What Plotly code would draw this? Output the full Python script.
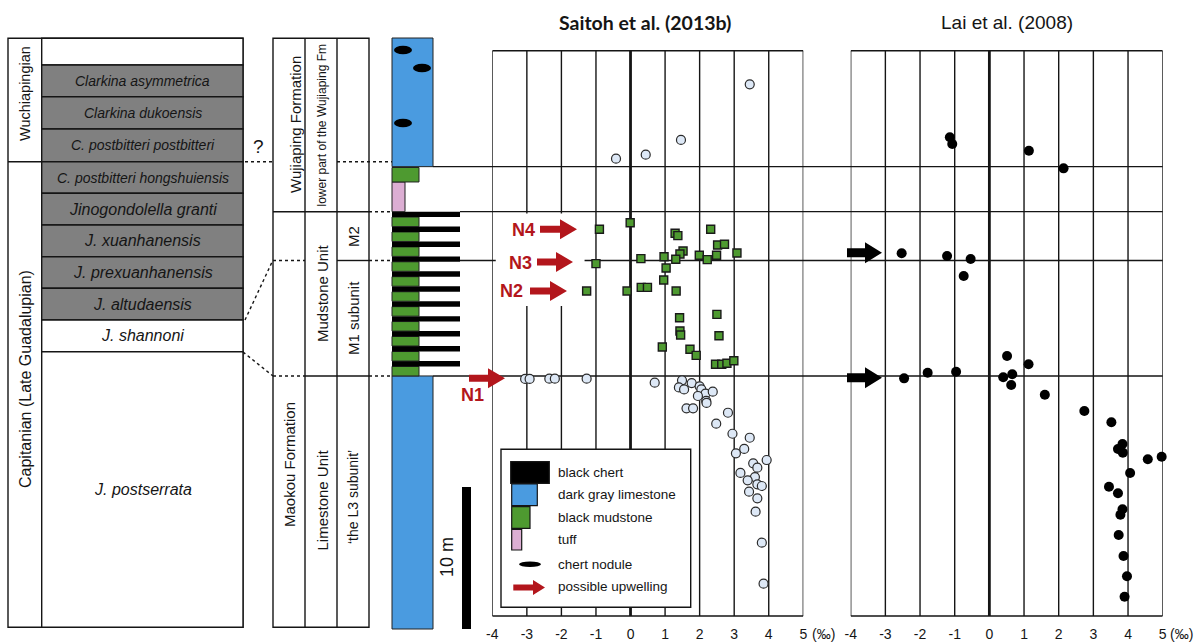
import plotly.graph_objects as go


# ==========================================================
# Data (heights in metres above the base of the column)
# ==========================================================

# Saitoh et al. (2013b) - limestone samples (open circles)
saitoh_ls_d13c = [3.45, 1.46, 0.44, -0.42,
                  -3.05, -2.92, -2.35, -2.19, -1.27, 0.70, 1.49, 1.40, 1.55, 1.77,
                  2.00, 2.05, 2.17, 2.38, 1.95, 2.19, 2.20, 1.62, 1.81, 2.82,
                  2.48, 2.95, 3.45, 3.29, 3.05, 3.94, 3.55, 3.67, 3.18, 3.60,
                  3.39, 3.67, 3.80, 3.43, 3.67, 3.62, 3.80, 3.85]
saitoh_ls_height = [38.36, 34.44, 33.40, 33.12,
                    17.61, 17.61, 17.63, 17.63, 17.63, 17.35, 17.51, 17.01, 16.87, 17.32,
                    17.09, 16.88, 16.57, 16.71, 16.41, 16.06, 15.92, 15.54, 15.54, 15.23,
                    14.46, 13.75, 13.47, 12.68, 12.37, 11.90, 11.67, 11.36, 10.99, 10.70,
                    10.47, 10.19, 10.07, 9.67, 9.20, 8.26, 6.08, 3.19]

# Saitoh et al. (2013b) - mudstone samples (green squares)
saitoh_mud_d13c = [-0.01, -0.90, 1.29, 1.37, 2.32, 2.52, 2.72, 1.52, 1.43, 1.31,
                   0.97, 0.30, 1.99, 2.22, 2.49, 3.08, -1.00, 1.03, 0.96, -1.27,
                   -0.10, 0.31, 0.49, 1.32, 1.42, 2.50, 1.43, 1.45, 0.92, 1.72,
                   1.90, 2.56, 2.46, 2.64, 2.79, 2.99]
saitoh_mud_height = [28.61, 28.15, 27.87, 27.70, 28.15, 27.04, 27.09, 26.62, 26.41, 26.04,
                     26.22, 26.08, 26.32, 26.01, 26.32, 26.48, 25.73, 25.42, 24.58, 23.80,
                     23.80, 24.06, 24.06, 23.80, 21.92, 22.16, 20.99, 20.70, 19.86, 19.70,
                     19.27, 20.65, 18.64, 18.64, 18.71, 18.89]

# Lai et al. (2008)
lai_d13c = [-1.14, -1.07, 1.14, 2.14, -2.53, -1.22, -0.54, -0.74,
            -2.46, -1.78, -0.96, 0.51, 1.13, 0.40, 0.66, 0.63, 1.60, 2.74, 3.52,
            3.84, 3.71, 3.85, 4.57, 4.97, 4.06, 3.45, 3.71, 3.84, 3.78, 3.73,
            3.87, 3.97, 3.90]
lai_height = [34.63, 34.15, 33.68, 32.44, 26.46, 26.27, 26.06, 24.86,
              17.65, 18.05, 18.12, 19.23, 18.64, 17.73, 17.94, 17.18, 16.50, 15.35, 14.56,
              13.03, 12.68, 12.42, 11.95, 12.13, 10.99, 10.02, 9.56, 8.43, 8.05, 6.62,
              5.14, 3.71, 2.27]

# unit boundaries: L3/M1, M1/M2, M2/Wujiaping, tuff-mudstone/limestone
unit_tops = [17.82, 25.95, 29.39, 32.56]

# lithology column
bed_base = [0.00, 17.82, 18.49, 18.87, 19.54, 19.93, 20.60, 20.98, 21.65, 22.03, 22.70,
            23.08, 23.75, 24.14, 24.81, 25.19, 25.86, 26.24, 26.91, 27.29, 27.96,
            28.34, 29.01, 29.39, 31.48, 32.56]
bed_top = [17.82, 18.49, 18.87, 19.54, 19.93, 20.60, 20.98, 21.65, 22.03, 22.70, 23.08,
           23.75, 24.14, 24.81, 25.19, 25.86, 26.24, 26.91, 27.29, 27.96, 28.34,
           29.01, 29.39, 31.48, 32.50, 41.62]
bed_lith = ["limestone", "mudstone", "chert", "mudstone", "chert", "mudstone", "chert",
            "mudstone", "chert", "mudstone", "chert", "mudstone", "chert", "mudstone",
            "chert", "mudstone", "chert", "mudstone", "chert", "mudstone", "chert",
            "mudstone", "chert", "tuff", "mudstone", "limestone"]
nodule_heights = [35.63, 39.51, 40.77]

# possible upwelling events
upwelling_labels = ["N1", "N2", "N3", "N4"]
upwelling_heights = [17.65, 23.80, 25.85, 28.15]
lai_arrow_heights = [17.70, 26.50]

# biozones (left table)
zone_names = ["", "Clarkina asymmetrica", "Clarkina dukoensis",
              "C. postbitteri postbitteri", "C. postbitteri hongshuiensis",
              "Jinogondolella granti", "J. xuanhanensis", "J. prexuanhanensis",
              "J. altudaensis", "J. shannoni", "J. postserrata"]

x_ticks = [-4, -3, -2, -1, 0, 1, 2, 3, 4, 5]
x_tick_text = ["-4", "-3", "-2", "-1", "0", "1", "2", "3", "4", "5"]


# ==========================================================
# Layout constants (pixels)
# ==========================================================

W, H = 1194, 643
PX_PER_M = 14.2
BASE_ROW = 629
FONT = "Liberation Sans, Arial, sans-serif"
INK = "#151515"
RED = "#b3161c"

LITH_COLOR = {"limestone": "#4a9be0", "mudstone": "#4e9a30",
              "chert": "#000000", "tuff": "#dcaed3"}
LITH_WIDTH = {"limestone": 41, "mudstone": 27, "chert": 68, "tuff": 13}
COL_X = 392

ZONE_ROWS = [38.3, 65, 96.7, 129, 161.7, 193.3, 225, 256.7, 288.3, 320, 351.7, 627.3]
ZONE_GRAY = [False, True, True, True, True, True, True, True, True, False, False]
ZONE_SIZE = [14, 14, 14, 14, 14, 16, 16, 16, 16, 16, 16]

PLOT_TOP = (BASE_ROW - 50.7) / PX_PER_M
PLOT_BOTTOM = (BASE_ROW - 616) / PX_PER_M


def px(x):
    return x / W


def py(y):
    return 1 - y / H


def row_m(y):
    return (BASE_ROW - y) / PX_PER_M


shapes = []
annotations = []


def rect(x0, y0, x1, y1, fill="rgba(0,0,0,0)", lw=1.4, line=INK, layer="below"):
    shapes.append(dict(type="rect", xref="paper", yref="paper",
                       x0=px(x0), x1=px(x1), y0=py(y0), y1=py(y1),
                       fillcolor=fill, line=dict(color=line, width=lw), layer=layer))


def seg(x0, y0, x1, y1, lw=1.4, dash="solid", layer="below"):
    shapes.append(dict(type="line", xref="paper", yref="paper",
                       x0=px(x0), x1=px(x1), y0=py(y0), y1=py(y1),
                       line=dict(color=INK, width=lw, dash=dash), layer=layer))


def text(x, y, s, size=14, angle=0, bold=False, italic=False, color=INK,
         family=FONT, xanchor="center", yanchor="middle"):
    if italic:
        s = "<i>" + s + "</i>"
    if bold:
        s = "<b>" + s + "</b>"
    annotations.append(dict(x=px(x), y=py(y), xref="paper", yref="paper", text=s,
                            showarrow=False, textangle=angle, xanchor=xanchor,
                            yanchor=yanchor, borderpad=0,
                            font=dict(size=size, color=color, family=family)))


def arrow(x0, x1, h, color, shaft=7, head=20, head_len=17):
    xs = x1 - head_len
    s, hd = shaft / 2 / PX_PER_M, head / 2 / PX_PER_M
    pts = [(x0, h + s), (xs, h + s), (xs, h + hd), (x1, h), (xs, h - hd),
           (xs, h - s), (x0, h - s)]
    path = "M " + " L ".join(f"{px(a):.5f},{b:.4f}" for a, b in pts) + " Z"
    shapes.append(dict(type="path", xref="paper", yref="y", path=path,
                       fillcolor=color, line=dict(width=0), layer="above"))


# ==========================================================
# Left table: stages and conodont zones
# ==========================================================

rect(8, 38.3, 243, 627.3, fill="white")
for i, name in enumerate(zone_names):
    y0, y1 = ZONE_ROWS[i], ZONE_ROWS[i + 1]
    rect(41.7, y0, 243, y1, fill="#808080" if ZONE_GRAY[i] else "white")
    if name:
        text(142.5, (y0 + y1) / 2, name, size=ZONE_SIZE[i], italic=True)
seg(8, 161.7, 41.7, 161.7)
text(25, 94, "Wuchiapingian", size=14.5, angle=-90)
text(25, 379, "Capitanian (Late Guadalupian)", size=16, angle=-90)
text(258, 147, "?", size=19)

# connectors
seg(245, 161.7, 273, 161.7, dash="dot")
seg(245, 320, 273, 260, dash="dot")
seg(243, 352, 273, 376, dash="dot")

# ==========================================================
# Formation table
# ==========================================================

rect(273, 38.3, 369, 627.3, fill="white")
seg(305, 38.3, 305, 627.3)
seg(337, 38.3, 337, 627.3)
seg(273, 211.7, 369, 211.7)
seg(337, 260.5, 369, 260.5)
seg(305, 376, 369, 376)
seg(273, 260.5, 305, 260.5, dash="dot")
seg(273, 376, 305, 376, dash="dot")
seg(337, 161.7, 392, 161.7, dash="dot")
for yy in [211.7, 260.5, 376]:
    seg(369, yy, 392, yy, dash="dot")

text(295, 125, "Wujiaping Formation", size=15, angle=-90)
text(321.5, 125, "lower part of the Wujiaping Fm", size=12, angle=-90)
text(322, 293, "Mudstone Unit", size=15, angle=-90)
text(353, 237, "M2", size=15, angle=-90)
text(353, 318, "M1 subunit", size=15, angle=-90)
text(290, 465, "Maokou Formation", size=15, angle=-90)
text(321.5, 500, "Limestone Unit", size=15, angle=-90)
text(353, 497, "\u2018the L3 subunit\u2019", size=14, angle=-90)

# ==========================================================
# Lithology column
# ==========================================================

for b0, b1, lith in zip(bed_base, bed_top, bed_lith):
    shapes.append(dict(type="rect", xref="paper", yref="y",
                       x0=px(COL_X), x1=px(COL_X + LITH_WIDTH[lith]), y0=b0, y1=b1,
                       fillcolor=LITH_COLOR[lith],
                       line=dict(color="#222", width=1 if lith != "chert" else 0),
                       layer="below"))
for h, xc in zip(nodule_heights, [403, 422, 403]):
    shapes.append(dict(type="circle", xref="paper", yref="y",
                       x0=px(xc - 9), x1=px(xc + 9), y0=h - 4.3 / PX_PER_M,
                       y1=h + 4.3 / PX_PER_M, fillcolor="black",
                       line=dict(width=0), layer="below"))

# 10 m scale bar
shapes.append(dict(type="rect", xref="paper", yref="y", x0=px(462), x1=px(471),
                   y0=0, y1=10, fillcolor="black", line=dict(width=0), layer="below"))
text(447, 557, "10 m", size=18, angle=-90)

# unit boundaries running across both profiles
for h, x_start in zip(unit_tops, [433, 460, 460, 433]):
    shapes.append(dict(type="line", xref="paper", yref="y", x0=px(x_start),
                       x1=px(1162.7), y0=h, y1=h,
                       line=dict(color=INK, width=1.4), layer="below"))

# ==========================================================
# Profiles
# ==========================================================

for xr in ["x", "x2"]:
    for v in x_ticks:
        shapes.append(dict(type="line", xref=xr, yref="y", x0=v, x1=v,
                           y0=PLOT_BOTTOM, y1=PLOT_TOP,
                           line=dict(color=INK, width=2.8 if v == 0 else 1.4),
                           layer="below"))
    for h in [PLOT_BOTTOM, PLOT_TOP]:
        shapes.append(dict(type="line", xref=xr, yref="y", x0=-4, x1=5, y0=h, y1=h,
                           line=dict(color=INK, width=1.4), layer="below"))

# white patch behind the N2-N4 labels
shapes.append(dict(type="rect", xref="x", yref="y", x0=-3.9, x1=-1.33,
                   y0=row_m(306), y1=row_m(213.5), fillcolor="white",
                   line=dict(width=0), layer="below"))

fig = go.Figure()

fig.add_trace(go.Scatter(
    x=saitoh_ls_d13c, y=saitoh_ls_height, mode="markers", xaxis="x", yaxis="y",
    marker=dict(symbol="circle", size=9, color="#dde8f6",
                line=dict(color="#2b2b2b", width=1.2)),
    cliponaxis=False, hoverinfo="skip"))

fig.add_trace(go.Scatter(
    x=saitoh_mud_d13c, y=saitoh_mud_height, mode="markers", xaxis="x", yaxis="y",
    marker=dict(symbol="square", size=8, color="#4e9a30",
                line=dict(color="#1a1a1a", width=1.4)),
    cliponaxis=False, hoverinfo="skip"))

fig.add_trace(go.Scatter(
    x=lai_d13c, y=lai_height, mode="markers", xaxis="x2", yaxis="y",
    marker=dict(symbol="circle", size=10, color="black"),
    cliponaxis=False, hoverinfo="skip"))

# upwelling arrows
N_ARROW_X = [(469, 505), (530, 567), (537, 573), (540, 577)]
N_TEXT_XY = [(472, 395), (511, 291), (520, 263.3), (523.5, 230)]
for lab, h, (x0, x1), (tx, ty) in zip(upwelling_labels, upwelling_heights,
                                      N_ARROW_X, N_TEXT_XY):
    arrow(x0, x1, h, RED)
    text(tx, ty, lab, size=18, bold=True, color=RED)
for h in lai_arrow_heights:
    arrow(847, 882, h, "black", shaft=9, head=21, head_len=17)

# titles
text(645, 22, "Saitoh et al. (2013b)", size=19.5, bold=True, family="Lato, sans-serif")
text(1006.7, 22, "Lai et al. (2008)", size=19)
text(811, 643, "(\u2030)", size=14, xanchor="left", yanchor="bottom")
text(1169, 643, "(\u2030)", size=14, xanchor="left", yanchor="bottom")

# ==========================================================
# Legend
# ==========================================================

rect(501, 449.3, 690.7, 607.3, fill="white", layer="above")
legend_items = [("black chert", 510.7, 549.3, 461.7, 483.3, "chert"),
                ("dark gray limestone", 511.7, 537.3, 484, 505.7, "limestone"),
                ("black mudstone", 511.7, 530, 506.7, 528.3, "mudstone"),
                ("tuff", 511.7, 521.7, 529.3, 550, "tuff")]
for name, x0, x1, y0, y1, lith in legend_items:
    rect(x0, y0, x1, y1, fill=LITH_COLOR[lith], lw=1.2, layer="above")
    text(556.5, (y0 + y1) / 2, name, size=13.5, xanchor="left")
shapes.append(dict(type="circle", xref="paper", yref="paper", x0=px(519), x1=px(541),
                   y0=py(561.5), y1=py(567), fillcolor="black", line=dict(width=0),
                   layer="above"))
text(556.5, 564, "chert nodule", size=13.5, xanchor="left")
arrow(513.3, 545, row_m(587.5), RED, shaft=6, head=15, head_len=12)
text(556.5, 586, "possible upwelling", size=13.5, xanchor="left")

# ==========================================================
# Axes
# ==========================================================

axis_common = dict(range=[-4, 5], showgrid=False, zeroline=False, showline=False,
                   ticks="", tickvals=x_ticks, ticktext=x_tick_text,
                   tickfont=dict(size=14, color=INK, family=FONT),
                   anchor="free", position=py(616), ticklabelstandoff=8,
                   automargin=False, fixedrange=True)

fig.update_layout(
    width=W, height=H,
    margin=dict(l=0, r=0, t=0, b=0, autoexpand=False),
    paper_bgcolor="white",
    plot_bgcolor="rgba(0,0,0,0)",
    showlegend=False,
    font=dict(family=FONT, color=INK),
    xaxis=dict(domain=[px(492.3), px(803.3)], **axis_common),
    xaxis2=dict(domain=[px(850.7), px(1162.7)], **axis_common),
    yaxis=dict(domain=[0, 1], range=[row_m(H), row_m(0)], visible=False,
               automargin=False, fixedrange=True),
    shapes=shapes,
    annotations=annotations,
)

fig.write_html("out.html", config={"displayModeBar": False},
               post_script="document.body.style.margin='0px';")
